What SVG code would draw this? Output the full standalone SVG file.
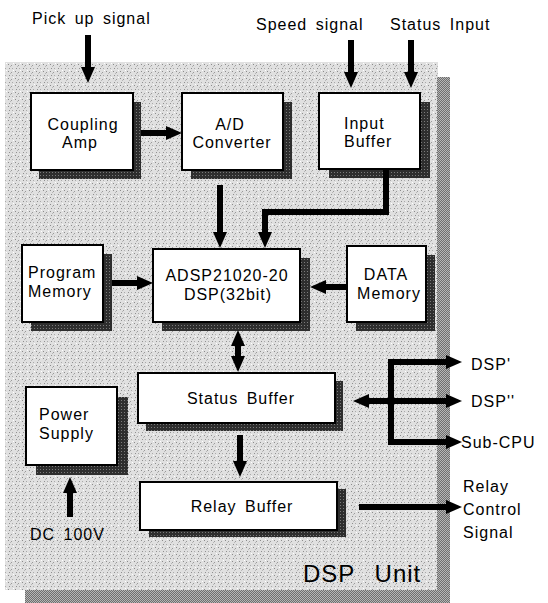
<svg xmlns="http://www.w3.org/2000/svg" width="548" height="603" viewBox="0 0 548 603">
<defs>
<pattern id="stip" width="7" height="7" patternUnits="userSpaceOnUse">
<rect width="7" height="7" fill="#e0e0e0"/>
<rect x="1" y="1" width="1" height="1" fill="#8c8c8c"/>
<rect x="4" y="2" width="1" height="1" fill="#9a9a9a"/>
<rect x="2" y="5" width="1" height="1" fill="#909090"/>
<rect x="5" y="5" width="1" height="1" fill="#aaaaaa"/>
<rect x="3" y="3" width="1" height="1" fill="#b8b8b8"/>
<rect x="6" y="0" width="1" height="1" fill="#ffffff"/>
</pattern>
<pattern id="dark" width="3" height="3" patternUnits="userSpaceOnUse">
<rect width="3" height="3" fill="#2e2e2e"/>
<rect x="1" y="1" width="1" height="1" fill="#7a7a7a"/>
</pattern>
<pattern id="edge" width="2" height="2" patternUnits="userSpaceOnUse">
<rect width="2" height="2" fill="#6e6e6e"/>
<rect width="1" height="1" fill="#b5b5b5"/>
<rect x="1" y="1" width="1" height="1" fill="#b5b5b5"/>
</pattern>
<marker id="ah" viewBox="0 0 16 14" refX="4" refY="7" markerWidth="16" markerHeight="14" markerUnits="userSpaceOnUse" orient="auto-start-reverse">
<path d="M0,0 L16,7 L0,14 Z" fill="#000"/>
</marker>
</defs>
<style>
.box{fill:#fff;stroke:#000;stroke-width:2}
.sh{fill:url(#dark)}
.t,.l{font-family:"Liberation Sans",Arial,sans-serif;font-size:16px;letter-spacing:1px;word-spacing:3px;fill:#000}
.t{text-anchor:middle}
.c{fill:none;stroke:#000;stroke-width:6;marker-end:url(#ah)}
.d{marker-start:url(#ah)}
</style>
<rect width="548" height="603" fill="#fff"/>
<g id="panel">
<rect x="5" y="62" width="433" height="528" fill="url(#stip)"/>
<rect x="437" y="77" width="13" height="526" fill="url(#edge)"/>
<rect x="25" y="590" width="425" height="13" fill="url(#edge)"/>
<text x="303" y="582" style="font-family:'Liberation Sans',Arial,sans-serif;font-size:24px;letter-spacing:1px;word-spacing:12px">DSP Unit</text>
</g>
<g id="labels">
<text class="l" x="32" y="24">Pick up signal</text>
<text class="l" x="256" y="30">Speed signal</text>
<text class="l" x="390" y="30">Status Input</text>
<text class="l" x="30" y="540">DC 100V</text>
<text class="l" x="471" y="370">DSP'</text>
<text class="l" x="471" y="407">DSP''</text>
<text class="l" x="461" y="448">Sub-CPU</text>
<text class="l" x="463" y="492">Relay</text>
<text class="l" x="463" y="515">Control</text>
<text class="l" x="463" y="538">Signal</text>
</g>
<g id="coupling-amp">
<rect class="sh" x="39" y="102" width="102" height="77"/>
<rect class="box" x="31" y="93" width="102" height="77"/>
<text class="t" x="83" y="130">Coupling</text>
<text class="t" x="80" y="148">Amp</text>
</g>
<g id="ad-converter">
<rect class="sh" x="191" y="102" width="101" height="77"/>
<rect class="box" x="182" y="93" width="101" height="77"/>
<text class="t" x="230" y="130">A/D</text>
<text class="t" x="232" y="148">Converter</text>
</g>
<g id="input-buffer">
<rect class="sh" x="329" y="102" width="101" height="76"/>
<rect class="box" x="319" y="93" width="101" height="76"/>
<text class="l" x="344" y="129">Input</text>
<text class="l" x="344" y="147">Buffer</text>
</g>
<g id="program-memory">
<rect class="sh" x="31" y="254" width="81" height="77"/>
<rect class="box" x="22" y="245" width="81" height="77"/>
<text class="l" x="28" y="278">Program</text>
<text class="l" x="28" y="297">Memory</text>
</g>
<g id="dsp">
<rect class="sh" x="162" y="258" width="148" height="73"/>
<rect class="box" x="153" y="249" width="147" height="73"/>
<text class="t" x="227" y="281">ADSP21020-20</text>
<text class="t" x="228" y="300">DSP(32bit)</text>
</g>
<g id="data-memory">
<rect class="sh" x="356" y="255" width="79" height="76"/>
<rect class="box" x="347" y="246" width="79" height="76"/>
<text class="t" x="386" y="280">DATA</text>
<text class="t" x="389" y="299">Memory</text>
</g>
<g id="status-buffer">
<rect class="sh" x="146" y="381" width="197" height="50"/>
<rect class="box" x="138" y="373" width="197" height="50"/>
<text class="t" x="241" y="404">Status Buffer</text>
</g>
<g id="relay-buffer">
<rect class="sh" x="149" y="489" width="197" height="48"/>
<rect class="box" x="140" y="482" width="197" height="48"/>
<text class="t" x="242" y="512">Relay Buffer</text>
</g>
<g id="power-supply">
<rect class="sh" x="36" y="397" width="92" height="78"/>
<rect class="box" x="26" y="387" width="91" height="78"/>
<text class="l" x="39" y="420">Power</text>
<text class="l" x="39" y="439">Supply</text>
</g>
<g id="connectors">
<path class="c" d="M88,35 V71"/>
<path class="c" d="M351,40 V76"/>
<path class="c" d="M411,40 V76"/>
<path class="c" d="M141,133 H170"/>
<path class="c" d="M220,185 V236"/>
<path class="c" d="M386,169 V212 H265 V236"/>
<path class="c" d="M112,283 H141"/>
<path class="c" d="M347,287 H322"/>
<path class="c d" d="M238,342 V360"/>
<path class="c" d="M240,435 V465"/>
<path class="c" d="M70,517 V489"/>
<path class="c d" d="M450,362 H391 V442 H450"/>
<path class="c d" d="M365,401 H450"/>
<path class="c" d="M359,507 H450"/>
</g>
</svg>
